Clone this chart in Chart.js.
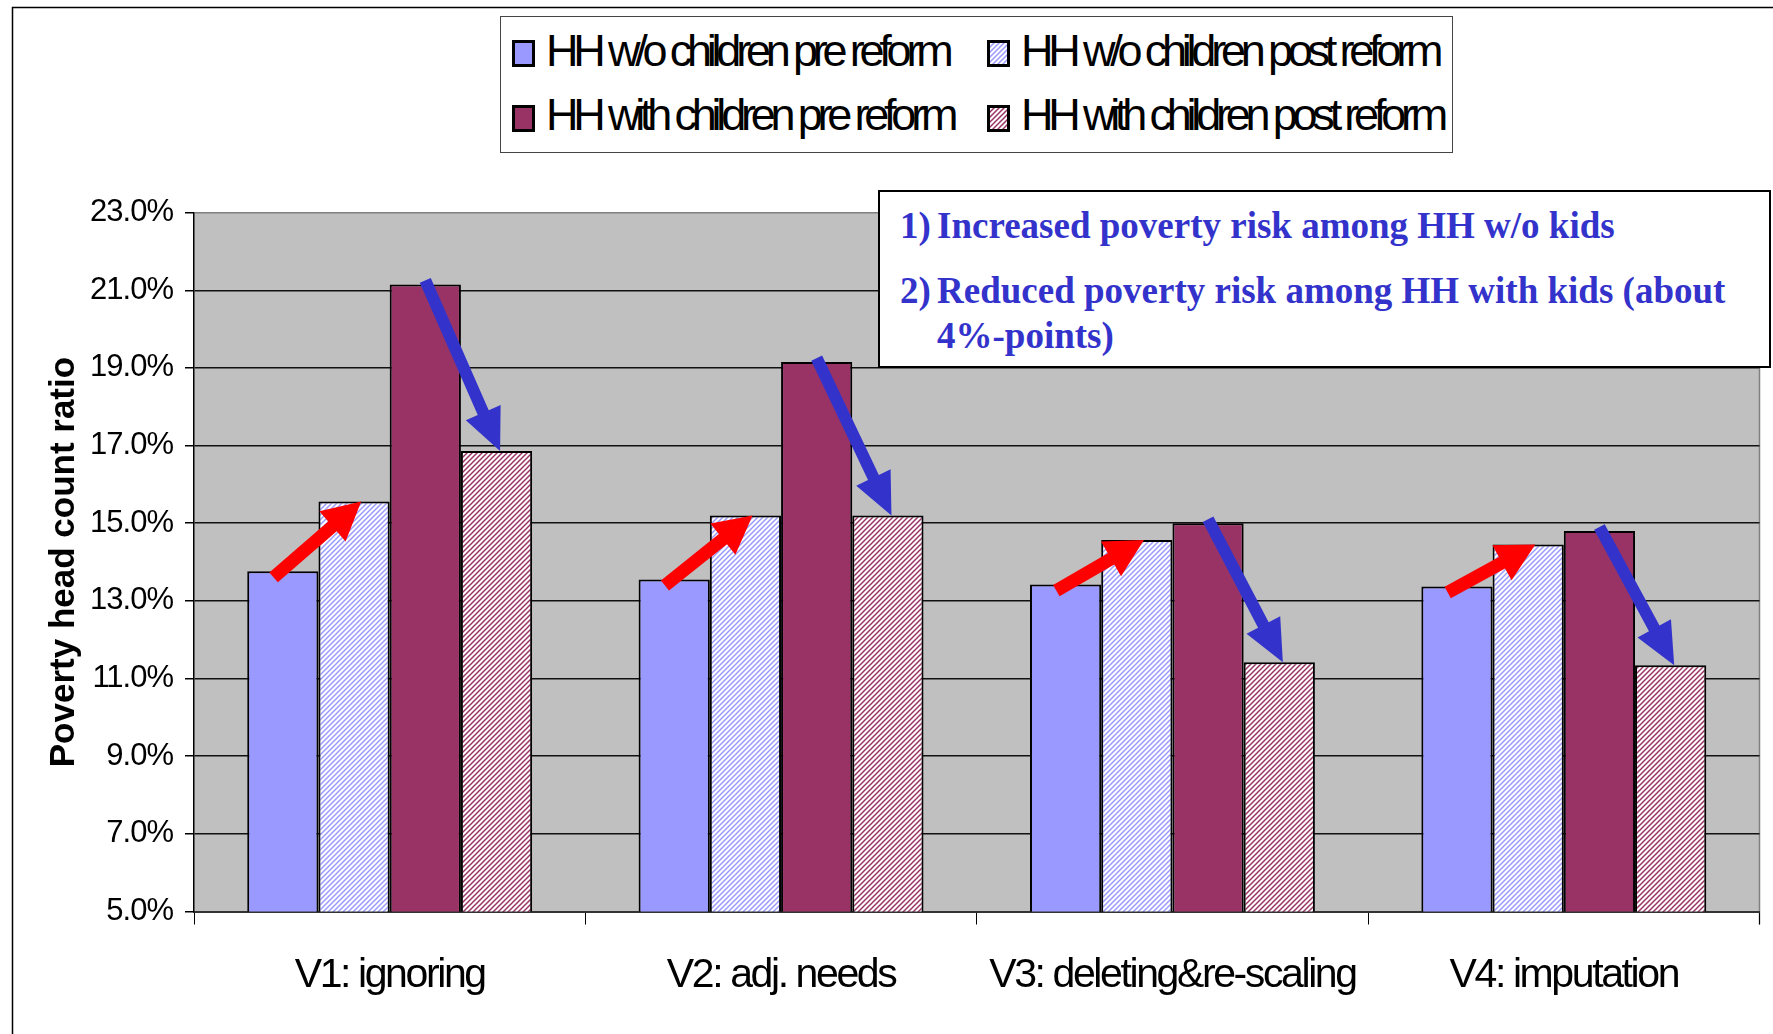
<!DOCTYPE html>
<html>
<head>
<meta charset="utf-8">
<script src="https://cdn.jsdelivr.net/npm/chart.js@4.4.1/dist/chart.umd.min.js"></script>
<style>
html, body { margin: 0; padding: 0; background: #fff; }
#wrap { position: relative; width: 1773px; height: 1034px; overflow: hidden; }
#chart { position: absolute; left: 0; top: 0; }
#legend { position: absolute; left: 500px; top: 16px; width: 953px; height: 137px; border: 1px solid #444; background: #fff; box-sizing: border-box; }
.lg-text { position: absolute; white-space: nowrap; font-family: "Liberation Sans", Arial, sans-serif; font-size: 45px; line-height: 45px; letter-spacing: -5.2px; color: #000; }
.lg-box { position: absolute; }
#note { position: absolute; left: 878px; top: 190px; width: 893px; height: 178px; border: 2px solid #000; background: #fff; box-sizing: border-box; }
.nt { position: absolute; white-space: nowrap; font-family: "Liberation Serif", "Times New Roman", serif; font-weight: bold; font-size: 37px; line-height: 37px; color: #3333CC; }
</style>
</head>
<body>
<div id="wrap">
  <canvas id="chart" width="1773" height="1034"></canvas>
  <div id="legend"></div>
  <div id="note"></div>
</div>
<script>
const categories = ['V1: ignoring', 'V2: adj. needs', 'V3: deleting&re-scaling', 'V4: imputation'];
const seriesNames = ['HH w/o children pre reform', 'HH w/o children post reform', 'HH with children pre reform', 'HH with children post reform'];
const noChildPre = [13.76, 13.55, 13.42, 13.37];
const noChildPost = [15.56, 15.20, 14.57, 14.45];
const childPre = [21.15, 19.15, 15.00, 14.80];
const childPost = [16.86, 15.20, 11.42, 11.34];
const yTicks = [5, 7, 9, 11, 13, 15, 17, 19, 21, 23];
const noteLines = [
    ['1)', 'Increased poverty risk among HH w/o kids'],
    ['2)', 'Reduced poverty risk among HH with kids (about'],
    ['', '4%-points)']
];

const BLUE = '#9999FF', PLUM = '#993366';

function hatch(ctx, color) {
    const c = document.createElement('canvas');
    c.width = c.height = 5;
    const x = c.getContext('2d');
    x.fillStyle = '#fff';
    x.fillRect(0, 0, 5, 5);
    x.strokeStyle = color;
    x.lineWidth = 1.5;
    x.beginPath();
    x.moveTo(0, 5); x.lineTo(5, 0);
    x.moveTo(-1, 1); x.lineTo(1, -1);
    x.moveTo(4, 6); x.lineTo(6, 4);
    x.stroke();
    return ctx.createPattern(c, 'repeat');
}

function arrow(ctx, x0, y0, x1, y1, sw, hl, hw, col) {
    const dx = x1 - x0, dy = y1 - y0, L = Math.hypot(dx, dy);
    const ux = dx / L, uy = dy / L, px = -uy, py = ux;
    const bx = x1 - ux * hl, by = y1 - uy * hl;
    ctx.fillStyle = col;
    ctx.beginPath();
    ctx.moveTo(x0 + px * sw / 2, y0 + py * sw / 2);
    ctx.lineTo(bx + px * sw / 2, by + py * sw / 2);
    ctx.lineTo(bx + px * hw / 2, by + py * hw / 2);
    ctx.lineTo(x1, y1);
    ctx.lineTo(bx - px * hw / 2, by - py * hw / 2);
    ctx.lineTo(bx - px * sw / 2, by - py * sw / 2);
    ctx.lineTo(x0 - px * sw / 2, y0 - py * sw / 2);
    ctx.closePath();
    ctx.fill();
}

const canvas = document.getElementById('chart');
const ctx = canvas.getContext('2d');
const fills = [BLUE, hatch(ctx, BLUE), PLUM, hatch(ctx, PLUM)];

const backdrop = {
    id: 'backdrop',
    beforeDraw(chart) {
        const c = chart.ctx, a = chart.chartArea;
        c.save();
        c.fillStyle = '#fff';
        c.fillRect(0, 0, chart.width, chart.height);
        c.strokeStyle = '#000';
        c.lineWidth = 1.5;
        c.beginPath();
        c.moveTo(12.5, chart.height); c.lineTo(12.5, 7.5); c.lineTo(chart.width, 7.5);
        c.stroke();
        c.fillStyle = '#C0C0C0';
        c.fillRect(a.left, a.top, a.right - a.left, a.bottom - a.top);
        c.strokeStyle = '#808080';
        c.lineWidth = 1.5;
        c.beginPath();
        c.moveTo(a.right, a.bottom + 13); c.lineTo(a.right, a.top);
        c.stroke();
        c.restore();
        // tighter tick text like the original
        [['x', '-2.4px'], ['y', '-1px']].forEach(([id, sp]) => {
            const s = chart.scales[id];
            if (s && !s._spaced) {
                const orig = s.drawLabels;
                s.drawLabels = function (area) {
                    this.ctx.save();
                    this.ctx.letterSpacing = sp;
                    orig.call(this, area);
                    this.ctx.restore();
                };
                s._spaced = true;
            }
        });
    },
    afterDatasetsDraw(chart) {
        const c = chart.ctx;
        const m = [0, 1, 2, 3].map(i => chart.getDatasetMeta(i).data);
        c.save();
        categories.forEach((_, i) => {
            const a = m[0][i], b = m[1][i], p = m[2][i], q = m[3][i];
            arrow(c, a.x - a.width * 0.13, a.y + 6, b.x + b.width * 0.1, b.y, 13, 38, 40, '#FF0000');
            arrow(c, p.x, p.y - 4, q.x + q.width * 0.05, q.y, 12, 42, 38, '#3333CC');
        });
        c.restore();
    }
};

new Chart(ctx, {
    type: 'bar',
    data: {
        labels: categories,
        datasets: [noChildPre, noChildPost, childPre, childPost].map((d, i) => ({
            label: seriesNames[i],
            data: d,
            backgroundColor: fills[i],
            borderColor: '#000',
            borderWidth: 2,
            borderSkipped: false,
            categoryPercentage: 0.728,
            barPercentage: 1
        }))
    },
    options: {
        responsive: false,
        animation: false,
        events: [],
        layout: { padding: { left: 30, top: 212.6, right: 13.5, bottom: 0 } },
        plugins: { legend: { display: false }, tooltip: { enabled: false } },
        scales: {
            x: {
                afterFit: s => { s.height = 122.5; },
                grid: { offset: true, drawOnChartArea: false, tickLength: 13, color: '#000', lineWidth: 1 },
                border: { color: '#333', width: 2 },
                ticks: {
                    color: '#000',
                    padding: 27,
                    maxRotation: 0,
                    minRotation: 0,
                    autoSkip: false,
                    font: { family: '"Liberation Sans", Arial, sans-serif', size: 41 }
                }
            },
            y: {
                min: 5,
                max: 23,
                afterFit: s => { s.width = 164; },
                afterBuildTicks: s => { s.ticks = yTicks.map(v => ({ value: v })); },
                grid: {
                    color: c => c.tick && c.tick.value === 23 ? '#808080' : '#111',
                    tickColor: '#000',
                    lineWidth: 1.5,
                    tickLength: 9
                },
                border: { color: '#000', width: 1.5 },
                ticks: {
                    color: '#000',
                    padding: 12,
                    font: { family: '"Liberation Sans", Arial, sans-serif', size: 31 },
                    callback: v => v.toFixed(1) + '%'
                },
                title: {
                    display: true,
                    text: 'Poverty head count ratio',
                    color: '#000',
                    padding: { top: 13, bottom: 0 },
                    font: { family: '"Liberation Sans", Arial, sans-serif', size: 35, weight: 'bold' }
                }
            }
        }
    },
    plugins: [backdrop]
});

// legend in two columns, like the original
const legend = document.getElementById('legend');
const cols = [512, 987], rows = [40, 105], base = [66, 130];
seriesNames.forEach((name, i) => {
    const col = i % 2, row = Math.floor(i / 2);
    const sw = document.createElement('canvas');
    sw.width = 23; sw.height = 27;
    sw.className = 'lg-box';
    sw.style.left = (cols[col] - 501) + 'px';
    sw.style.top = (rows[row] - 17) + 'px';
    const sc = sw.getContext('2d');
    sc.fillStyle = i % 2 ? hatch(sc, i < 2 ? BLUE : PLUM) : (i < 2 ? BLUE : PLUM);
    sc.fillRect(0, 0, 23, 27);
    sc.strokeStyle = '#000';
    sc.lineWidth = 3;
    sc.strokeRect(1.5, 1.5, 20, 24);
    legend.appendChild(sw);
    const t = document.createElement('div');
    t.className = 'lg-text';
    t.textContent = name;
    t.style.left = (cols[col] + 34 - 501) + 'px';
    t.style.top = (base[row] - 38 - 17) + 'px';
    legend.appendChild(t);
});

// text box with the two findings
const note = document.getElementById('note');
const noteBase = [238, 303, 348];
noteLines.forEach(([num, txt], i) => {
    [[num, 900], [txt, 937]].forEach(([s, x]) => {
        if (!s) return;
        const d = document.createElement('div');
        d.className = 'nt';
        d.textContent = s;
        d.style.left = (x - 880) + 'px';
        d.style.top = (noteBase[i] - 31 - 192) + 'px';
        note.appendChild(d);
    });
});
</script>
</body>
</html>
